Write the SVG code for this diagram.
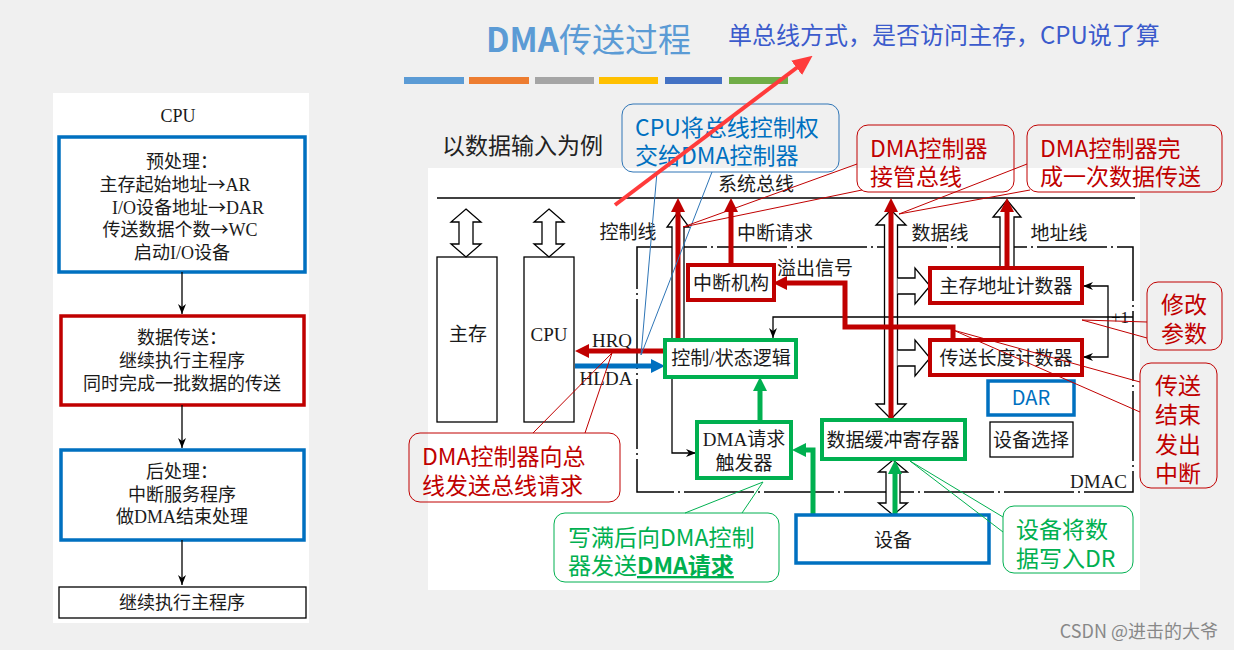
<svg xmlns="http://www.w3.org/2000/svg" width="1234" height="650" viewBox="0 0 1234 650">
<defs>
<style>
.cjk{font-family:"Liberation Serif","Noto Sans CJK SC",serif;font-size:19px;fill:#1a1a1a}
.flow{font-family:"Liberation Serif","Noto Sans CJK SC",serif;font-size:18px;fill:#1a1a1a;text-anchor:middle}
.arw{font-family:"Noto Sans CJK SC",sans-serif}
.co{font-family:"Noto Sans CJK SC","Liberation Sans",sans-serif;font-size:23px}
.thin{fill:none;stroke:#000;stroke-width:1.3}
.hollow{fill:#fff;stroke:#000;stroke-width:1.3;stroke-linejoin:miter}
.rbox{fill:#fff;stroke:#c00000;stroke-width:4}
.gbox{fill:#fff;stroke:#00b050;stroke-width:4}
.bbox{fill:#fff;stroke:#0070c0;stroke-width:3.5}
.red{fill:none;stroke:#c00000;stroke-width:5}
.grn{fill:none;stroke:#00b050;stroke-width:5}
.blu{fill:none;stroke:#0070c0;stroke-width:5}
.cr{fill:none;stroke:#c00000;stroke-width:1}
.cg{fill:none;stroke:#00b050;stroke-width:1}
.cb{fill:none;stroke:#2e75b6;stroke-width:1}
</style>
<marker id="mr" viewBox="0 0 14 14" refX="8" refY="7" markerWidth="14" markerHeight="14" markerUnits="userSpaceOnUse" orient="auto"><path d="M0,0 L14,7 L0,14 z" fill="#c00000"/></marker>
<marker id="mg" viewBox="0 0 14 14" refX="8" refY="7" markerWidth="14" markerHeight="14" markerUnits="userSpaceOnUse" orient="auto"><path d="M0,0 L14,7 L0,14 z" fill="#00b050"/></marker>
<marker id="mb" viewBox="0 0 14 14" refX="8" refY="7" markerWidth="14" markerHeight="14" markerUnits="userSpaceOnUse" orient="auto"><path d="M0,0 L14,7 L0,14 z" fill="#0070c0"/></marker>
<marker id="mk" viewBox="0 0 10 8" refX="10" refY="4" markerWidth="10" markerHeight="8" markerUnits="userSpaceOnUse" orient="auto"><path d="M0,0 L10,4 L0,8 L3,4 z" fill="#000"/></marker>
<marker id="mt" viewBox="0 0 20 18" refX="8" refY="9" markerWidth="20" markerHeight="18" markerUnits="userSpaceOnUse" orient="auto"><path d="M0,0 L20,9 L0,18 z" fill="#ff3b3b"/></marker>
</defs>

<rect x="0" y="0" width="1234" height="650" fill="#f0f0f0"/>
<rect x="53" y="93" width="256" height="530" fill="#fff"/>
<rect x="428" y="168" width="712" height="422" fill="#fff"/>

<g id="title">
<text x="486" y="52" font-family="Noto Sans CJK SC, sans-serif" font-size="33" fill="#5b9bd5"><tspan font-weight="bold">DMA</tspan>传送过程</text>
<text x="728" y="44" font-family="Noto Sans CJK SC, sans-serif" font-size="24" fill="#3b5bcc">单总线方式，是否访问主存，CPU说了算</text>
<rect x="404" y="77" width="60" height="7" fill="#5b9bd5"/>
<rect x="469" y="77" width="60" height="7" fill="#ed7d31"/>
<rect x="535" y="77" width="59" height="7" fill="#a5a5a5"/>
<rect x="599" y="77" width="59" height="7" fill="#ffc000"/>
<rect x="665" y="77" width="57" height="7" fill="#4472c4"/>
<rect x="729" y="77" width="59" height="7" fill="#70ad47"/>
</g>

<!-- Left flowchart -->
<g id="flow-cpu"><text x="178" y="122" class="flow" font-size="17">CPU</text></g>
<g id="flow-pre">
<rect x="59" y="137" width="246" height="135" fill="#fff" stroke="#0070c0" stroke-width="3.5"/>
<text class="flow"><tspan x="182" y="168">预处理：</tspan><tspan x="175" y="191">主存起始地址<tspan class="arw">→</tspan>AR</tspan><tspan x="188" y="214">I/O设备地址<tspan class="arw">→</tspan>DAR</tspan><tspan x="180" y="236">传送数据个数<tspan class="arw">→</tspan>WC</tspan><tspan x="182" y="259">启动I/O设备</tspan></text>
</g>
<g id="flow-transfer">
<rect x="61" y="316" width="243" height="89" fill="#fff" stroke="#c00000" stroke-width="3.5"/>
<text class="flow"><tspan x="182" y="344">数据传送：</tspan><tspan x="182" y="367">继续执行主程序</tspan><tspan x="182" y="390">同时完成一批数据的传送</tspan></text>
</g>
<g id="flow-post">
<rect x="61" y="450" width="243" height="90" fill="#fff" stroke="#0070c0" stroke-width="3.5"/>
<text class="flow"><tspan x="182" y="478">后处理：</tspan><tspan x="182" y="501">中断服务程序</tspan><tspan x="182" y="523">做DMA结束处理</tspan></text>
</g>
<g id="flow-cont">
<rect x="59" y="587" width="247" height="31" fill="#fff" stroke="#000" stroke-width="1.3"/>
<text class="flow" x="182" y="609">继续执行主程序</text>
</g>
<g id="flow-connectors" class="thin">
<line x1="182" y1="272" x2="182" y2="314" marker-end="url(#mk)"/>
<line x1="182" y1="405" x2="182" y2="448" marker-end="url(#mk)"/>
<line x1="182" y1="540" x2="182" y2="585" marker-end="url(#mk)"/>
</g>

<!-- Right diagram -->
<text x="442" y="154" font-family="Noto Sans CJK SC, sans-serif" font-size="23" fill="#222">以数据输入为例</text>

<g id="bus">
<line x1="437" y1="198" x2="1135" y2="198" stroke="#000" stroke-width="1.5"/>
<text x="756" y="191" class="cjk" text-anchor="middle">系统总线</text>
</g>

<g id="dmac">
<rect x="637" y="247" width="496" height="245" fill="none" stroke="#000" stroke-width="1.5" stroke-dasharray="70 4 2 4"/>
<text x="1127" y="488" class="cjk" text-anchor="end">DMAC</text>
</g>

<g id="mem">
<rect x="437" y="257" width="60" height="165" fill="#fff" stroke="#000" stroke-width="1.3"/>
<text x="468" y="341" class="cjk" text-anchor="middle">主存</text>
</g>
<g id="cpu">
<rect x="524" y="257" width="50" height="165" fill="#fff" stroke="#000" stroke-width="1.3"/>
<text x="549" y="341" class="cjk" text-anchor="middle">CPU</text>
</g>

<g id="hollow-arrows">
<path class="hollow" d="M466,209 L481,222 H473 V244 H481 L466,257 L451,244 H459 V222 H451 Z"/>
<path class="hollow" d="M549,209 L564,222 H556 V244 H564 L549,257 L534,244 H542 V222 H534 Z"/>
<path class="hollow" d="M672,340 V227 H667 L678,212 L689,227 H684 V340"/>
<path class="hollow" d="M891,210 L906,225 H897.5 V404 H906 L891,419 L876,404 H884.5 V225 H876 Z"/>
<path class="hollow" d="M897.5,278 H915 V268 L930,286 L915,304 V294 H897.5"/>
<path class="hollow" d="M897.5,350 H915 V340 L930,358 L915,376 V366 H897.5"/>
<path class="hollow" d="M1000,268 V217 H993 L1007,200 L1021,217 H1014 V268"/>
<path class="hollow" d="M893,460 L907.5,472 H900 V503 H907.5 L893,515 L878.5,503 H886 V472 H878.5 Z"/>
</g>

<g id="labels" class="cjk">
<text x="628" y="239" text-anchor="middle">控制线</text>
<text x="775" y="240" text-anchor="middle">中断请求</text>
<text x="940" y="240" text-anchor="middle">数据线</text>
<text x="1059" y="240" text-anchor="middle">地址线</text>
<text x="815" y="275" text-anchor="middle">溢出信号</text>
<text x="612" y="347" text-anchor="middle">HRQ</text>
<text x="606" y="385" text-anchor="middle">HLDA</text>
<text x="1120" y="323" text-anchor="middle" font-size="17">+1</text>
</g>

<g id="connectors">
<path class="thin" d="M1133,317 H773 V338" marker-end="url(#mk)"/>
<path class="thin" d="M1108,317 V286 H1083" marker-end="url(#mk)"/>
<path class="thin" d="M1108,317 V357 H1083" marker-end="url(#mk)"/>
<path class="thin" d="M672,377 V453 H696" marker-end="url(#mk)"/>
<line class="red" x1="678" y1="340" x2="678" y2="204" marker-end="url(#mr)"/>
<line class="red" x1="731" y1="265" x2="731" y2="204" marker-end="url(#mr)"/>
<line class="red" x1="891" y1="420" x2="891" y2="204" marker-end="url(#mr)"/>
<line class="red" x1="1007" y1="268" x2="1007" y2="204" marker-end="url(#mr)"/>
<line class="red" x1="665" y1="351" x2="581" y2="351" marker-end="url(#mr)"/>
<path class="red" d="M953,340 V327 H845 V283 H779" marker-end="url(#mr)" stroke-linejoin="miter"/>
<line class="blu" x1="575" y1="366" x2="659" y2="366" marker-end="url(#mb)"/>
<line class="grn" x1="760" y1="422" x2="760" y2="383" marker-end="url(#mg)"/>
<path class="grn" d="M813,514 V450 H798" marker-end="url(#mg)" stroke-linejoin="miter"/>
<line class="grn" x1="895" y1="514" x2="895" y2="466" marker-end="url(#mg)"/>
</g>

<g id="interrupt">
<rect class="rbox" x="688" y="265" width="86" height="35"/>
<text x="731" y="290" class="cjk" text-anchor="middle">中断机构</text>
</g>
<g id="addr-counter">
<rect class="rbox" x="930" y="268" width="152" height="35"/>
<text x="1006" y="293" class="cjk" text-anchor="middle">主存地址计数器</text>
</g>
<g id="len-counter">
<rect class="rbox" x="930" y="340" width="152" height="35"/>
<text x="1006" y="365" class="cjk" text-anchor="middle">传送长度计数器</text>
</g>
<g id="ctrl-logic">
<rect class="gbox" x="665" y="340" width="131" height="37"/>
<text x="731" y="365" class="cjk" text-anchor="middle" font-size="20">控制/状态逻辑</text>
</g>
<g id="dma-trigger">
<rect class="gbox" x="697" y="422" width="94" height="56"/>
<text class="cjk" text-anchor="middle"><tspan x="744" y="446">DMA请求</tspan><tspan x="744" y="470">触发器</tspan></text>
</g>
<g id="buffer">
<rect class="gbox" x="822" y="420" width="143" height="39"/>
<text x="893" y="447" class="cjk" text-anchor="middle">数据缓冲寄存器</text>
</g>
<g id="dar">
<rect class="bbox" x="988" y="381" width="86" height="34"/>
<text x="1031" y="405" font-family="Noto Sans CJK SC, sans-serif" font-size="20" fill="#0070c0" text-anchor="middle">DAR</text>
</g>
<g id="dev-select">
<rect x="990" y="422" width="83" height="35" fill="#fff" stroke="#000" stroke-width="1.3"/>
<text x="1031" y="447" class="cjk" text-anchor="middle">设备选择</text>
</g>
<g id="device">
<rect class="bbox" x="796" y="515" width="193" height="48"/>
<text x="893" y="547" class="cjk" text-anchor="middle">设备</text>
</g>

<!-- Callouts -->
<g id="callout-cpu">
<rect class="cb" x="622" y="104" width="217" height="68" rx="11"/>
<path class="cb" d="M657,172 L641,355 L712,172"/>
<text class="co" fill="#0070c0"><tspan x="635" y="136">CPU将总线控制权</tspan><tspan x="635" y="164">交给DMA控制器</tspan></text>
</g>
<g id="callout-takeover">
<rect class="cr" x="857" y="125" width="157" height="67" rx="11"/>
<path class="cr" d="M857,164 L683,227 L862,190"/>
<text class="co" fill="#c00000"><tspan x="870" y="157">DMA控制器</tspan><tspan x="870" y="185">接管总线</tspan></text>
</g>
<g id="callout-once">
<rect class="cr" x="1027" y="125" width="195" height="67" rx="11"/>
<path class="cr" d="M1027,164 L899,214 L1030,190"/>
<text class="co" fill="#c00000"><tspan x="1040" y="157">DMA控制器完</tspan><tspan x="1040" y="185">成一次数据传送</tspan></text>
</g>
<g id="callout-modify">
<rect class="cr" x="1147" y="282" width="75" height="68" rx="11"/>
<path class="cr" d="M1147,322 L1082,320 L1147,338"/>
<text class="co" fill="#c00000" text-anchor="middle" font-size="24"><tspan x="1184" y="313">修改</tspan><tspan x="1184" y="342">参数</tspan></text>
</g>
<g id="callout-end">
<rect class="cr" x="1140" y="363" width="77" height="125" rx="11"/>
<path class="cr" d="M1140,382 L953,330 L1140,412"/>
<text class="co" fill="#c00000" text-anchor="middle"><tspan x="1178" y="394">传送</tspan><tspan x="1178" y="423">结束</tspan><tspan x="1178" y="453">发出</tspan><tspan x="1178" y="482">中断</tspan></text>
</g>
<g id="callout-request">
<rect class="cr" x="409" y="433" width="211" height="69" rx="11"/>
<path class="cr" d="M533,433 L612,353 L585,433"/>
<text class="co" fill="#c00000"><tspan x="422" y="465">DMA控制器向总</tspan><tspan x="422" y="494">线发送总线请求</tspan></text>
</g>
<g id="callout-dmareq">
<rect class="cg" x="554" y="513" width="225" height="69" rx="11"/>
<path class="cg" d="M685,513 L763,482 L742,513"/>
<text class="co" fill="#00b050"><tspan x="568" y="546">写满后向DMA控制</tspan><tspan x="568" y="574">器发送<tspan font-weight="bold" text-decoration="underline">DMA请求</tspan></tspan></text>
</g>
<g id="callout-dr">
<rect class="cg" x="1003" y="506" width="130" height="67" rx="11"/>
<path class="cg" d="M1003,517 L910,461 L1003,532"/>
<text class="co" fill="#00b050"><tspan x="1016" y="538">设备将数</tspan><tspan x="1016" y="567">据写入DR</tspan></text>
</g>

<g id="pointer-arrow">
<line x1="615" y1="205" x2="803" y2="63" stroke="#ff3b3b" stroke-width="4" marker-end="url(#mt)"/>
</g>

<text x="1218" y="638" font-family="Noto Sans CJK SC, sans-serif" font-size="18" fill="#888" text-anchor="end">CSDN @进击的大爷</text>
</svg>
